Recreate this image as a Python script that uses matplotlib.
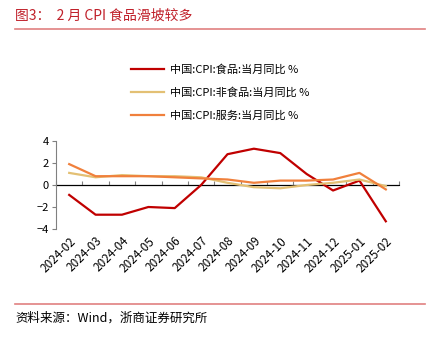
import numpy as np
import matplotlib
matplotlib.use('Agg')
import matplotlib.pyplot as plt
from matplotlib.lines import Line2D

plt.rcParams['font.family'] = ['Noto Sans CJK SC', 'DejaVu Sans']

# 数据
months = ['2024-02', '2024-03', '2024-04', '2024-05', '2024-06', '2024-07', '2024-08',
          '2024-09', '2024-10', '2024-11', '2024-12', '2025-01', '2025-02']
food = [-0.9, -2.7, -2.7, -2.0, -2.1, 0.0, 2.8, 3.3, 2.9, 1.0, -0.5, 0.4, -3.3]
nonfood = [1.1, 0.7, 0.9, 0.8, 0.8, 0.7, 0.2, -0.2, -0.3, 0.0, 0.2, 0.5, -0.1]
service = [1.9, 0.8, 0.8, 0.8, 0.7, 0.6, 0.5, 0.2, 0.4, 0.4, 0.5, 1.1, -0.4]
labels = ['中国:CPI:食品:当月同比 %', '中国:CPI:非食品:当月同比 %', '中国:CPI:服务:当月同比 %']
colors = ['#C00000', '#E3C074', '#F0803C']

W, H = 435, 342
fig = plt.figure(figsize=(W / 100, H / 100), dpi=100)

# 标题和分隔线
fig.text(15 / W, 1 - 16 / H, '图3：  2 月 CPI 食品滑坡较多', color='#C0202A',
         fontsize=10, va='center', ha='left')
fig.add_artist(Line2D([15 / W, 425 / W], [1 - 29 / H, 1 - 29 / H], color='#E08080', lw=1.2))
fig.add_artist(Line2D([15 / W, 425 / W], [1 - 304 / H, 1 - 304 / H], color='#E08080', lw=1.2))
fig.text(15 / W, 1 - 318 / H, '资料来源：Wind，浙商证券研究所', fontsize=9, va='center', ha='left')

ax = fig.add_axes([56 / W, 1 - 229 / H, (399 - 56) / W, (229 - 141) / H])
x = np.arange(len(months))
for y, lab, c in zip([food, nonfood, service], labels, colors):
    ax.plot(x, y, color=c, lw=1.6, label=lab)

ax.set_xlim(-0.5, len(months) - 0.5)
ax.set_ylim(-4, 4)
ax.set_yticks([-4, -2, 0, 2, 4])
ax.axhline(0, color='#808080', lw=0.9, zorder=0)

for s in ['top', 'right', 'bottom']:
    ax.spines[s].set_visible(False)
ax.spines['left'].set_color('#808080')
ax.tick_params(axis='y', length=3, color='#808080', labelsize=8, pad=2)
ax.set_xticks(x)
ax.set_xticklabels(months, rotation=45, ha='right', rotation_mode='anchor', fontsize=8.5)
ax.tick_params(axis='x', length=0, pad=4)

# 零轴上的刻度
sec = ax.secondary_xaxis(0.5)
sec.spines['bottom'].set_visible(False)
sec.set_xticks(np.arange(-0.5, len(months), 1))
sec.set_xticklabels([])
sec.tick_params(axis='x', length=3, color='#808080')

ax.legend(loc='upper left', bbox_to_anchor=(131 / W, 1 - 64 / H), bbox_transform=fig.transFigure,
          frameon=False, fontsize=8, handlelength=3.0, handletextpad=0.5, labelspacing=1.12,
          borderpad=0, borderaxespad=0)

fig.savefig('out.png', dpi=100)
